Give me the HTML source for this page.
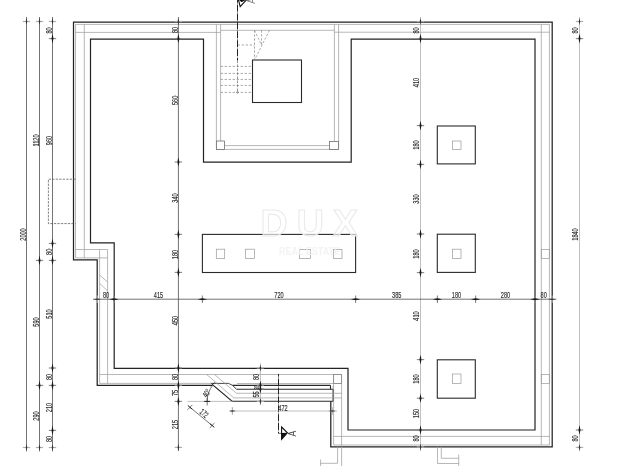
<!DOCTYPE html>
<html><head><meta charset="utf-8"><style>
html,body{margin:0;padding:0;background:#fff;}
svg{display:block;filter:grayscale(1);}
.wo{fill:none;stroke:#222;stroke-width:1.25;stroke-linejoin:miter;}
.wo2{fill:none;stroke:#222;stroke-width:1.2;}
.wi{fill:none;stroke:#222;stroke-width:1.2;stroke-linejoin:miter;}
.wb{fill:none;stroke:#2a2a2a;stroke-width:1.1;}
.wt{fill:none;stroke:#999;stroke-width:0.7;}
.wt2{fill:none;stroke:#999;stroke-width:0.7;}
.wmd{fill:none;stroke:#333;stroke-width:0.9;stroke-linejoin:round;}
.wc{fill:none;stroke:#888;stroke-width:0.75;}
.wp{fill:#fff;stroke:#666;stroke-width:0.75;}
.dsh{fill:none;stroke:#888;stroke-width:0.7;stroke-dasharray:2.4 1.6;}
.dsh2{fill:none;stroke:#666;stroke-width:0.7;stroke-dasharray:2.6 1.4;}
.dshb{fill:none;stroke:#555;stroke-width:0.75;stroke-dasharray:2.3 1.2;}
.dd{fill:none;stroke:#222;stroke-width:1.0;stroke-dasharray:7 0.7 0.5 0.7;stroke-dashoffset:4.3;}
.dm{fill:none;stroke:#444;stroke-width:0.75;}
.tk{stroke:#888;stroke-width:1.1;}
.tkb{stroke:#222;stroke-width:1.0;}
.dml{fill:none;stroke:#aaa;stroke-width:0.75;}
.tb{fill:#1a1a1a;stroke:none;}
.tkl{stroke:#b0b0b0;stroke-width:1.2;}
.tbl{fill:#333;stroke:none;}
.tx{font-family:"Liberation Sans",sans-serif;fill:#2a2a2a;stroke:#2a2a2a;stroke-width:0.15;text-anchor:middle;dominant-baseline:central;}
.wm{font-family:"Liberation Sans",sans-serif;}
</style></head><body>
<svg width="621" height="466" viewBox="0 0 621 466">
<path d="M212.4 385.4 L97.2 385.4 L97.2 259.9 L73.5 259.9 L73.5 22.0 L552.2 22.0 L552.2 446.8 L330.8 446.8 L330.8 401.3" class="wo"/>
<path d="M90.5 39.2 L203.5 39.2 L203.5 162.2 L351.2 162.2 L351.2 39.2 L535 39.2 L535 430.0 L348 430.0 L348 368.3 L114.2 368.3 L114.2 242.8 L90.5 242.8 Z" class="wi"/>
<line x1="75.55" y1="24.4" x2="549.4" y2="24.4" class="wt"/>
<line x1="75.55" y1="24.4" x2="75.55" y2="257.9" class="wt"/>
<line x1="84.3" y1="24.4" x2="84.3" y2="257.9" class="wt"/>
<line x1="75.55" y1="32.4" x2="220.6" y2="32.4" class="wt"/>
<line x1="334.4" y1="32.2" x2="549.4" y2="32.2" class="wt"/>
<line x1="75.55" y1="249.5" x2="107.6" y2="249.5" class="wt"/>
<line x1="75.55" y1="257.9" x2="107.6" y2="257.9" class="wt"/>
<line x1="99.6" y1="249.5" x2="99.6" y2="383.4" class="wt"/>
<line x1="107.6" y1="249.5" x2="107.6" y2="383.4" class="wt"/>
<line x1="99.6" y1="374.5" x2="341.6" y2="374.5" class="wt"/>
<line x1="99.6" y1="383.4" x2="211.4" y2="383.4" class="wt"/>
<line x1="237" y1="383.5" x2="341.6" y2="383.5" class="wt"/>
<line x1="333.6" y1="374.5" x2="333.6" y2="445.0" class="wt"/>
<line x1="341.6" y1="374.5" x2="341.6" y2="466" class="wt"/>
<line x1="333.6" y1="436.4" x2="549.4" y2="436.4" class="wt"/>
<line x1="333.6" y1="445.0" x2="549.4" y2="445.0" class="wt"/>
<line x1="541.3" y1="24.4" x2="541.3" y2="445.0" class="wt"/>
<line x1="549.4" y1="24.4" x2="549.4" y2="445.0" class="wt"/>
<line x1="99.6" y1="275" x2="107.6" y2="282.1" class="wt"/>
<line x1="99.6" y1="283.4" x2="107.2" y2="290.5" class="wt"/>
<rect x="333.6" y="374.5" width="8.0" height="9.0" class="wc"/>
<rect x="541.3" y="249.4" width="8.1" height="9.0" class="wt2"/>
<rect x="541.3" y="374.4" width="8.1" height="9.0" class="wt2"/>
<path d="M75.5 179.2 L48.4 179.2 L48.4 223.6 L75.5 223.6" class="dshb"/>
<line x1="216.4" y1="24.3" x2="216.4" y2="149.4" class="wt"/>
<line x1="220.6" y1="24.3" x2="220.6" y2="141" class="wt"/>
<line x1="334.4" y1="24.4" x2="334.4" y2="141.4" class="wt"/>
<line x1="338.6" y1="24.4" x2="338.6" y2="149.4" class="wt"/>
<line x1="220.6" y1="30.3" x2="334.4" y2="30.3" class="wt"/>
<line x1="224.6" y1="145.6" x2="329.4" y2="145.6" class="wt"/>
<line x1="216.4" y1="149.4" x2="338.6" y2="149.4" class="wt"/>
<rect x="216.4" y="141" width="8.2" height="8.4" class="wp"/>
<rect x="329.4" y="141.4" width="9.2" height="8.0" class="wp"/>
<rect x="252.5" y="60" width="49.0" height="42.5" class="wb"/>
<line x1="220.6" y1="66.4" x2="252.5" y2="66.4" class="dsh"/>
<line x1="220.6" y1="73.4" x2="252.5" y2="73.4" class="dsh"/>
<line x1="220.6" y1="79.4" x2="252.5" y2="79.4" class="dsh"/>
<line x1="220.6" y1="85.4" x2="252.5" y2="85.4" class="dsh"/>
<line x1="220.6" y1="92.4" x2="252.5" y2="92.4" class="dsh"/>
<line x1="237.6" y1="45" x2="254.5" y2="45" class="dsh"/>
<line x1="254.5" y1="30.3" x2="254.5" y2="60" class="dsh"/>
<line x1="261.5" y1="30.3" x2="261.5" y2="45" class="dsh"/>
<line x1="254.5" y1="30.3" x2="261.5" y2="45" class="dsh"/>
<line x1="269.5" y1="30.3" x2="254.5" y2="60" class="dsh"/>
<line x1="237.5" y1="0" x2="237.5" y2="60.5" class="dd"/>
<line x1="237.5" y1="60.5" x2="237.5" y2="92.4" class="dsh2"/>
<circle cx="237.5" cy="92.4" r="0.9" fill="none" stroke="#666" stroke-width="0.6"/>
<path d="M238.4 -0.5 L246.8 -0.5 L240.2 6.7 Z" fill="#fff" stroke="#111" stroke-width="1.1"/>
<path d="M238.6 -0.5 L246.6 -0.5 L241.5 2.2 Z" fill="#111"/>
<text class="tx" transform="translate(251 0.8) rotate(-90) scale(0.8 1)" font-size="11" style="fill:#777;stroke:none">A</text>
<rect x="202.4" y="234.4" width="153.2" height="38.1" class="wb"/>
<rect x="216.3" y="249.2" width="8.4" height="9.4" class="wt2"/>
<rect x="245.4" y="249.2" width="9.2" height="9.4" class="wt2"/>
<rect x="299.4" y="249.4" width="11.2" height="9.2" class="wt2"/>
<rect x="333.6" y="249.4" width="8.4" height="9.2" class="wt2"/>
<rect x="437.3" y="126.0" width="38.0" height="37.9" class="wb"/>
<rect x="452.4" y="141" width="8.6" height="8.6" class="wt2"/>
<rect x="437.3" y="234.2" width="38.0" height="38.2" class="wb"/>
<rect x="452.4" y="249.2" width="8.6" height="9.2" class="wt2"/>
<rect x="437.3" y="359.8" width="38.0" height="38.4" class="wb"/>
<rect x="452.4" y="374" width="8.6" height="9.6" class="wt2"/>
<path d="M212.4 384.6 L232.3 401.4" class="wo2"/>
<line x1="187.6" y1="401.4" x2="232.3" y2="401.4" class="dml"/>
<line x1="232.3" y1="401.3" x2="333.1" y2="401.3" class="wb"/>
<line x1="333.1" y1="389.3" x2="333.1" y2="401.3" class="wb"/>
<line x1="236.5" y1="389.3" x2="333.1" y2="389.3" class="wb"/>
<path d="M211.4 383.4 L228.5 383.4 L232.7 385.4 L236.5 389.3" class="wmd"/>
<line x1="232.7" y1="385.4" x2="330.5" y2="385.4" class="wb"/>
<line x1="330.5" y1="385.5" x2="330.5" y2="389.3" class="wb"/>
<path d="M206.4 374.3 L233.8 397.9 L341.6 397.9" class="wt"/>
<path d="M214.3 374.3 L236.5 393.3 L341.6 393.3" class="wt"/>
<line x1="333.1" y1="385.5" x2="333.1" y2="401.3" class="wt"/>
<path d="M337.6 446.4 L337.6 463.3 L320.6 463.3" class="wt"/>
<line x1="320.6" y1="459.5" x2="320.6" y2="466" class="wt"/>
<path d="M437.5 446.4 L437.5 463.5 L458.7 463.5" class="wt"/>
<path d="M441.3 446.4 L441.3 458.3 L458.7 458.3" class="wt"/>
<line x1="458.7" y1="454.5" x2="458.7" y2="466" class="wt"/>
<line x1="278.5" y1="374" x2="278.5" y2="433.4" class="dd"/>
<line x1="278.5" y1="433.4" x2="281.3" y2="433.4" class="dm"/>
<path d="M281.6 427 L287.4 432.8 L281.6 439.4 Z" fill="#fff" stroke="#111" stroke-width="1.1"/>
<path d="M281.6 433 L287.4 432.8 L281.6 439.4 Z" fill="#111"/>
<text class="tx" transform="translate(292.6 433.5) rotate(-90) scale(0.8 1)" font-size="11" style="fill:#444;stroke:none">A</text>
<line x1="26.5" y1="17" x2="26.5" y2="451.4" class="dm"/>
<line x1="22.8" y1="21.5" x2="30.2" y2="21.5" class="tkl"/>
<path d="M26.5 17.9 L27.25 21.5 L26.5 25.1 L25.75 21.5 Z" class="tbl"/>
<line x1="22.8" y1="447.5" x2="30.2" y2="447.5" class="tkl"/>
<path d="M26.5 443.9 L27.25 447.5 L26.5 451.1 L25.75 447.5 Z" class="tbl"/>
<line x1="39.5" y1="17" x2="39.5" y2="451.4" class="dm"/>
<line x1="35.8" y1="21.5" x2="43.2" y2="21.5" class="tkl"/>
<path d="M39.5 17.9 L40.25 21.5 L39.5 25.1 L38.75 21.5 Z" class="tbl"/>
<line x1="35.8" y1="260.4" x2="43.2" y2="260.4" class="tk"/>
<path d="M39.5 255.59999999999997 L40.5 260.4 L39.5 265.2 L38.5 260.4 Z" class="tb"/>
<line x1="35.8" y1="385.4" x2="43.2" y2="385.4" class="tk"/>
<path d="M39.5 380.59999999999997 L40.5 385.4 L39.5 390.2 L38.5 385.4 Z" class="tb"/>
<line x1="35.8" y1="447.5" x2="43.2" y2="447.5" class="tkl"/>
<path d="M39.5 443.9 L40.25 447.5 L39.5 451.1 L38.75 447.5 Z" class="tbl"/>
<line x1="52.5" y1="17" x2="52.5" y2="451.4" class="dm"/>
<line x1="48.8" y1="21.5" x2="56.2" y2="21.5" class="tkl"/>
<path d="M52.5 17.9 L53.25 21.5 L52.5 25.1 L51.75 21.5 Z" class="tbl"/>
<line x1="48.8" y1="38.6" x2="56.2" y2="38.6" class="tk"/>
<path d="M52.5 33.800000000000004 L53.5 38.6 L52.5 43.4 L51.5 38.6 Z" class="tb"/>
<line x1="48.8" y1="243.4" x2="56.2" y2="243.4" class="tk"/>
<path d="M52.5 238.6 L53.5 243.4 L52.5 248.20000000000002 L51.5 243.4 Z" class="tb"/>
<line x1="48.8" y1="260.4" x2="56.2" y2="260.4" class="tk"/>
<path d="M52.5 255.59999999999997 L53.5 260.4 L52.5 265.2 L51.5 260.4 Z" class="tb"/>
<line x1="48.8" y1="368" x2="56.2" y2="368" class="tk"/>
<path d="M52.5 363.2 L53.5 368 L52.5 372.8 L51.5 368 Z" class="tb"/>
<line x1="48.8" y1="385.4" x2="56.2" y2="385.4" class="tk"/>
<path d="M52.5 380.59999999999997 L53.5 385.4 L52.5 390.2 L51.5 385.4 Z" class="tb"/>
<line x1="48.8" y1="430.4" x2="56.2" y2="430.4" class="tk"/>
<path d="M52.5 425.59999999999997 L53.5 430.4 L52.5 435.2 L51.5 430.4 Z" class="tb"/>
<line x1="48.8" y1="447.5" x2="56.2" y2="447.5" class="tkl"/>
<path d="M52.5 443.9 L53.25 447.5 L52.5 451.1 L51.75 447.5 Z" class="tbl"/>
<line x1="178.4" y1="17" x2="178.4" y2="451" class="dm"/>
<line x1="174.70000000000002" y1="21.5" x2="182.1" y2="21.5" class="tkl"/>
<path d="M178.4 17.9 L179.15 21.5 L178.4 25.1 L177.65 21.5 Z" class="tbl"/>
<line x1="174.70000000000002" y1="38.6" x2="182.1" y2="38.6" class="tk"/>
<path d="M178.4 33.800000000000004 L179.4 38.6 L178.4 43.4 L177.4 38.6 Z" class="tb"/>
<line x1="174.70000000000002" y1="162" x2="182.1" y2="162" class="tk"/>
<path d="M178.4 157.2 L179.4 162 L178.4 166.8 L177.4 162 Z" class="tb"/>
<line x1="174.70000000000002" y1="234.4" x2="182.1" y2="234.4" class="tk"/>
<path d="M178.4 229.6 L179.4 234.4 L178.4 239.20000000000002 L177.4 234.4 Z" class="tb"/>
<line x1="174.70000000000002" y1="272.4" x2="182.1" y2="272.4" class="tk"/>
<path d="M178.4 267.59999999999997 L179.4 272.4 L178.4 277.2 L177.4 272.4 Z" class="tb"/>
<line x1="174.70000000000002" y1="368" x2="182.1" y2="368" class="tk"/>
<path d="M178.4 363.2 L179.4 368 L178.4 372.8 L177.4 368 Z" class="tb"/>
<line x1="174.70000000000002" y1="385.4" x2="182.1" y2="385.4" class="tk"/>
<path d="M178.4 380.59999999999997 L179.4 385.4 L178.4 390.2 L177.4 385.4 Z" class="tb"/>
<line x1="174.70000000000002" y1="401.4" x2="182.1" y2="401.4" class="tk"/>
<path d="M178.4 396.59999999999997 L179.4 401.4 L178.4 406.2 L177.4 401.4 Z" class="tb"/>
<line x1="174.70000000000002" y1="447.4" x2="182.1" y2="447.4" class="tkl"/>
<path d="M178.4 443.79999999999995 L179.15 447.4 L178.4 451.0 L177.65 447.4 Z" class="tbl"/>
<line x1="420.5" y1="17" x2="420.5" y2="451" class="dml"/>
<line x1="416.8" y1="21.5" x2="424.2" y2="21.5" class="tkl"/>
<path d="M420.5 17.9 L421.25 21.5 L420.5 25.1 L419.75 21.5 Z" class="tbl"/>
<line x1="416.8" y1="38.6" x2="424.2" y2="38.6" class="tk"/>
<path d="M420.5 33.800000000000004 L421.5 38.6 L420.5 43.4 L419.5 38.6 Z" class="tb"/>
<line x1="416.8" y1="125.6" x2="424.2" y2="125.6" class="tk"/>
<path d="M420.5 120.8 L421.5 125.6 L420.5 130.4 L419.5 125.6 Z" class="tb"/>
<line x1="416.8" y1="164.4" x2="424.2" y2="164.4" class="tk"/>
<path d="M420.5 159.6 L421.5 164.4 L420.5 169.20000000000002 L419.5 164.4 Z" class="tb"/>
<line x1="416.8" y1="234" x2="424.2" y2="234" class="tk"/>
<path d="M420.5 229.2 L421.5 234 L420.5 238.8 L419.5 234 Z" class="tb"/>
<line x1="416.8" y1="272.6" x2="424.2" y2="272.6" class="tk"/>
<path d="M420.5 267.8 L421.5 272.6 L420.5 277.40000000000003 L419.5 272.6 Z" class="tb"/>
<line x1="416.8" y1="359.6" x2="424.2" y2="359.6" class="tk"/>
<path d="M420.5 354.8 L421.5 359.6 L420.5 364.40000000000003 L419.5 359.6 Z" class="tb"/>
<line x1="416.8" y1="398.2" x2="424.2" y2="398.2" class="tk"/>
<path d="M420.5 393.4 L421.5 398.2 L420.5 403.0 L419.5 398.2 Z" class="tb"/>
<line x1="416.8" y1="430" x2="424.2" y2="430" class="tk"/>
<path d="M420.5 425.2 L421.5 430 L420.5 434.8 L419.5 430 Z" class="tb"/>
<line x1="416.8" y1="447" x2="424.2" y2="447" class="tkl"/>
<path d="M420.5 443.4 L421.25 447 L420.5 450.6 L419.75 447 Z" class="tbl"/>
<line x1="579.5" y1="17" x2="579.5" y2="451" class="dml"/>
<line x1="575.8" y1="21.5" x2="583.2" y2="21.5" class="tkl"/>
<path d="M579.5 17.9 L580.25 21.5 L579.5 25.1 L578.75 21.5 Z" class="tbl"/>
<line x1="575.8" y1="38.6" x2="583.2" y2="38.6" class="tk"/>
<path d="M579.5 33.800000000000004 L580.5 38.6 L579.5 43.4 L578.5 38.6 Z" class="tb"/>
<line x1="575.8" y1="430" x2="583.2" y2="430" class="tk"/>
<path d="M579.5 425.2 L580.5 430 L579.5 434.8 L578.5 430 Z" class="tb"/>
<line x1="575.8" y1="447.4" x2="583.2" y2="447.4" class="tkl"/>
<path d="M579.5 443.79999999999995 L580.25 447.4 L579.5 451.0 L578.75 447.4 Z" class="tbl"/>
<line x1="260.4" y1="363.3" x2="260.4" y2="405" class="dml"/>
<line x1="256.7" y1="368" x2="264.09999999999997" y2="368" class="tkl"/>
<path d="M260.4 364.4 L261.15 368 L260.4 371.6 L259.65 368 Z" class="tbl"/>
<line x1="256.7" y1="385.3" x2="264.09999999999997" y2="385.3" class="tk"/>
<path d="M260.4 380.5 L261.4 385.3 L260.4 390.1 L259.4 385.3 Z" class="tb"/>
<line x1="256.7" y1="389" x2="264.09999999999997" y2="389" class="tk"/>
<path d="M260.4 384.2 L261.4 389 L260.4 393.8 L259.4 389 Z" class="tb"/>
<line x1="256.7" y1="401.4" x2="264.09999999999997" y2="401.4" class="tkl"/>
<path d="M260.4 397.79999999999995 L261.15 401.4 L260.4 405.0 L259.65 401.4 Z" class="tbl"/>
<line x1="93" y1="299.2" x2="556.4" y2="299.2" class="dm"/>
<line x1="97.2" y1="295.5" x2="97.2" y2="302.9" class="tkl"/>
<path d="M93.60000000000001 299.2 L97.2 298.45 L100.8 299.2 L97.2 299.95 Z" class="tbl"/>
<line x1="114" y1="295.5" x2="114" y2="302.9" class="tk"/>
<path d="M109.2 299.2 L114 298.2 L118.8 299.2 L114 300.2 Z" class="tb"/>
<line x1="202.4" y1="295.5" x2="202.4" y2="302.9" class="tk"/>
<path d="M197.6 299.2 L202.4 298.2 L207.20000000000002 299.2 L202.4 300.2 Z" class="tb"/>
<line x1="355.6" y1="295.5" x2="355.6" y2="302.9" class="tk"/>
<path d="M350.8 299.2 L355.6 298.2 L360.40000000000003 299.2 L355.6 300.2 Z" class="tb"/>
<line x1="437.4" y1="295.5" x2="437.4" y2="302.9" class="tk"/>
<path d="M432.59999999999997 299.2 L437.4 298.2 L442.2 299.2 L437.4 300.2 Z" class="tb"/>
<line x1="475.6" y1="295.5" x2="475.6" y2="302.9" class="tk"/>
<path d="M470.8 299.2 L475.6 298.2 L480.40000000000003 299.2 L475.6 300.2 Z" class="tb"/>
<line x1="535" y1="295.5" x2="535" y2="302.9" class="tk"/>
<path d="M530.2 299.2 L535 298.2 L539.8 299.2 L535 300.2 Z" class="tb"/>
<line x1="552" y1="295.5" x2="552" y2="302.9" class="tkl"/>
<path d="M548.4 299.2 L552 298.45 L555.6 299.2 L552 299.95 Z" class="tbl"/>
<line x1="229.6" y1="411.0" x2="337" y2="411.0" class="dml"/>
<line x1="232.4" y1="407.3" x2="232.4" y2="414.7" class="tkl"/>
<path d="M228.8 411.0 L232.4 410.25 L236.0 411.0 L232.4 411.75 Z" class="tbl"/>
<line x1="332.2" y1="407.3" x2="332.2" y2="414.7" class="tkl"/>
<path d="M328.59999999999997 411.0 L332.2 410.25 L335.8 411.0 L332.2 411.75 Z" class="tbl"/>
<line x1="190.0" y1="407.3" x2="212.1" y2="425.5" class="dm"/>
<line x1="187.6" y1="409.7" x2="192.4" y2="404.90000000000003" class="dm"/>
<line x1="187.8" y1="405.5" x2="192.2" y2="409.1" class="tkb"/>
<line x1="209.7" y1="427.9" x2="214.5" y2="423.1" class="dm"/>
<line x1="209.9" y1="423.7" x2="214.29999999999998" y2="427.3" class="tkb"/>
<path d="M207.2 401.4 A24.9 24.9 0 0 1 213.0 385.0" class="dm"/>
<line x1="210.6" y1="386.3" x2="214.4" y2="382.5" class="tkb"/>
<line x1="210.8" y1="382.8" x2="214.2" y2="386.0" class="dm"/>
<line x1="207.2" y1="397.6" x2="207.2" y2="405.4" class="dm"/>
<line x1="204.2" y1="401.4" x2="210.2" y2="401.4" class="tkb"/>
<text class="tx" transform="translate(23.2 234.5) rotate(-90) scale(0.61 1)" font-size="9.2">2000</text>
<text class="tx" transform="translate(36.0 140.5) rotate(-90) scale(0.61 1)" font-size="9.2">1120</text>
<text class="tx" transform="translate(36.0 322) rotate(-90) scale(0.61 1)" font-size="9.2">590</text>
<text class="tx" transform="translate(36.0 416) rotate(-90) scale(0.61 1)" font-size="9.2">290</text>
<text class="tx" transform="translate(48.7 30.5) rotate(-90) scale(0.61 1)" font-size="9.2">80</text>
<text class="tx" transform="translate(48.7 140.5) rotate(-90) scale(0.61 1)" font-size="9.2">960</text>
<text class="tx" transform="translate(48.7 251.8) rotate(-90) scale(0.61 1)" font-size="9.2">80</text>
<text class="tx" transform="translate(48.7 314) rotate(-90) scale(0.61 1)" font-size="9.2">510</text>
<text class="tx" transform="translate(48.7 377) rotate(-90) scale(0.61 1)" font-size="9.2">80</text>
<text class="tx" transform="translate(48.7 407.5) rotate(-90) scale(0.61 1)" font-size="9.2">210</text>
<text class="tx" transform="translate(48.7 439) rotate(-90) scale(0.61 1)" font-size="9.2">80</text>
<text class="tx" transform="translate(175 30) rotate(-90) scale(0.61 1)" font-size="9.2">80</text>
<text class="tx" transform="translate(175 100.4) rotate(-90) scale(0.61 1)" font-size="9.2">560</text>
<text class="tx" transform="translate(175 198) rotate(-90) scale(0.61 1)" font-size="9.2">340</text>
<text class="tx" transform="translate(175 254.5) rotate(-90) scale(0.61 1)" font-size="9.2">180</text>
<text class="tx" transform="translate(175 320.5) rotate(-90) scale(0.61 1)" font-size="9.2">450</text>
<text class="tx" transform="translate(175 377) rotate(-90) scale(0.61 1)" font-size="9.2">80</text>
<text class="tx" transform="translate(175 393) rotate(-90) scale(0.61 1)" font-size="9.2">75</text>
<text class="tx" transform="translate(175 424.5) rotate(-90) scale(0.61 1)" font-size="9.2">215</text>
<text class="tx" transform="translate(416.0 30.5) rotate(-90) scale(0.61 1)" font-size="9.2">80</text>
<text class="tx" transform="translate(416.0 82.5) rotate(-90) scale(0.61 1)" font-size="9.2">410</text>
<text class="tx" transform="translate(416.0 145) rotate(-90) scale(0.61 1)" font-size="9.2">180</text>
<text class="tx" transform="translate(416.0 199) rotate(-90) scale(0.61 1)" font-size="9.2">330</text>
<text class="tx" transform="translate(416.0 254) rotate(-90) scale(0.61 1)" font-size="9.2">180</text>
<text class="tx" transform="translate(416.0 316) rotate(-90) scale(0.61 1)" font-size="9.2">410</text>
<text class="tx" transform="translate(416.0 379) rotate(-90) scale(0.61 1)" font-size="9.2">180</text>
<text class="tx" transform="translate(416.0 413.5) rotate(-90) scale(0.61 1)" font-size="9.2">150</text>
<text class="tx" transform="translate(416.0 438.5) rotate(-90) scale(0.61 1)" font-size="9.2">80</text>
<text class="tx" transform="translate(575.0 30.5) rotate(-90) scale(0.61 1)" font-size="9.2">80</text>
<text class="tx" transform="translate(575.0 234.5) rotate(-90) scale(0.61 1)" font-size="9.2">1840</text>
<text class="tx" transform="translate(575.0 438.5) rotate(-90) scale(0.61 1)" font-size="9.2">80</text>
<text class="tx" transform="translate(256.4 377) rotate(-90) scale(0.61 1)" font-size="9.2">80</text>
<text class="tx" transform="translate(256.4 394.5) rotate(-90) scale(0.61 1)" font-size="9.2">55</text>
<text class="tx" transform="translate(256.4 387.8) rotate(-90) scale(0.5 1)" font-size="6.5">20</text>
<text class="tx" transform="translate(106 295.2) scale(0.61 1)" font-size="9.2">80</text>
<text class="tx" transform="translate(158.5 295.2) scale(0.61 1)" font-size="9.2">415</text>
<text class="tx" transform="translate(279 295.2) scale(0.61 1)" font-size="9.2">720</text>
<text class="tx" transform="translate(396.7 295.2) scale(0.61 1)" font-size="9.2">385</text>
<text class="tx" transform="translate(456.5 295.2) scale(0.61 1)" font-size="9.2">180</text>
<text class="tx" transform="translate(505.5 295.2) scale(0.61 1)" font-size="9.2">280</text>
<text class="tx" transform="translate(543.7 295.2) scale(0.61 1)" font-size="9.2">80</text>
<text class="tx" transform="translate(283 408) scale(0.61 1)" font-size="9.2">472</text>
<text class="tx" transform="translate(206.5 393) rotate(-58) scale(0.66 1)" font-size="8.2">40°</text>
<text class="tx" transform="translate(204.2 413.2) rotate(40) scale(0.6 1)" font-size="8.4">172</text>
<g id="wm">
<text class="wm" x="260.5" y="236" font-size="37.7" font-weight="bold" fill="#fff" fill-opacity="0.66" stroke="#e9e9e9" stroke-width="1" textLength="97.5" lengthAdjust="spacing">DUX</text>
<text class="wm" x="279" y="254.6" font-size="10" fill="#f0f0f0" fill-opacity="0.8" font-weight="bold" textLength="61" lengthAdjust="spacingAndGlyphs">REAL ESTATE</text>
</g>
</svg>
</body></html>
